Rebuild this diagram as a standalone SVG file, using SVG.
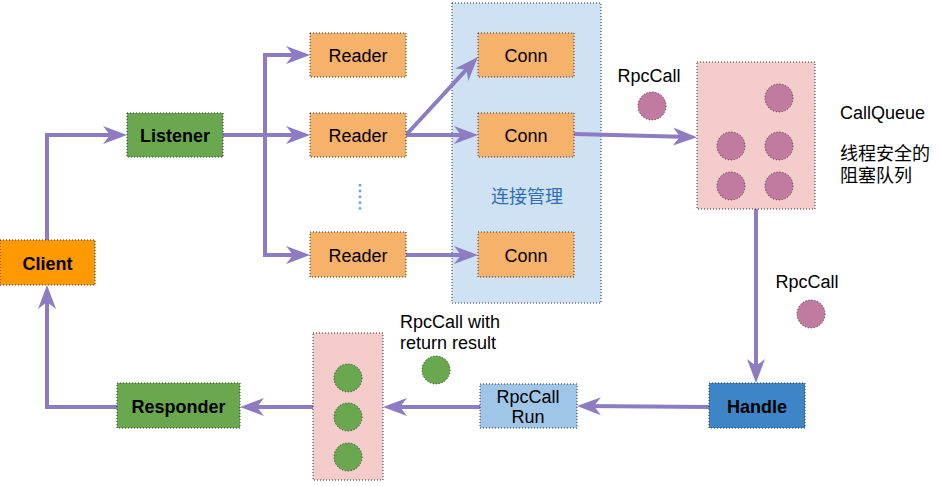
<svg xmlns="http://www.w3.org/2000/svg" width="939" height="486" viewBox="0 0 939 486">
<style>
.box{stroke:#333;stroke-width:1;stroke-dasharray:1 2}
.t{font-family:"Liberation Sans",Arial,sans-serif;font-size:18px;fill:#000;text-anchor:middle;dominant-baseline:central}
.b{font-weight:bold}
.lbl{font-family:"Liberation Sans",Arial,sans-serif;font-size:18px;fill:#000}
.cjk{font-family:"Liberation Sans","Noto Sans CJK SC",sans-serif;font-size:18px;fill:#000}
.edge{fill:none;stroke:#8e7cc3;stroke-width:4;marker-end:url(#arr)}
.pc{fill:#c27ba0;stroke:#333;stroke-width:1;stroke-dasharray:1 2}
.gc{fill:#6aa84f;stroke:#333;stroke-width:1;stroke-dasharray:1 2}
</style>
<defs>
<marker id="arr" markerUnits="userSpaceOnUse" markerWidth="28" markerHeight="22" refX="18" refY="10" orient="auto">
<path d="M0,1 L24,10 L0,19 L7,10 Z" fill="#8e7cc3"/>
</marker>
</defs>
<rect width="939" height="486" fill="#fff"/>
<g id="conn-group">
<rect class="box" x="452" y="3" width="149" height="300" fill="#cfe2f3"/>
<text x="527" y="197" class="cjk" text-anchor="middle" dominant-baseline="central" style="fill:#2f6db5">连接管理</text>
</g>
<g id="connectors">
<path class="edge" d="M47,240 V135 H121"/>
<path class="edge" d="M223,135 H265 V55 H304"/>
<path class="edge" d="M223,135 H304"/>
<path class="edge" d="M265,135 V255 H304"/>
<path class="edge" d="M406,135 L473.9,61.4"/>
<path class="edge" d="M406,135 H472"/>
<path class="edge" d="M406,255 H472"/>
<path class="edge" d="M574,134 L691,137"/>
<path class="edge" d="M756,209 V377"/>
<path class="edge" d="M709,407 L583,406"/>
<path class="edge" d="M480,407 H389"/>
<path class="edge" d="M313,407 H246"/>
<path class="edge" d="M117,407 H47 V291"/>
</g>
<g id="client"><rect class="box" x="0" y="240" width="95" height="45" fill="#ff9900"/><text class="t b" x="47.5" y="264">Client</text></g>
<g id="listener"><rect class="box" x="127" y="113" width="96" height="44" fill="#6aa84f"/><text class="t b" x="175" y="136">Listener</text></g>
<g id="reader1"><rect class="box" x="310" y="33" width="96" height="44" fill="#f6b26b"/><text class="t" x="358" y="56">Reader</text></g>
<g id="reader2"><rect class="box" x="310" y="113" width="96" height="44" fill="#f6b26b"/><text class="t" x="358" y="136">Reader</text></g>
<g id="reader3"><rect class="box" x="310" y="232" width="96" height="45" fill="#f6b26b"/><text class="t" x="358" y="256">Reader</text></g>
<g id="dots"><line x1="360" y1="184" x2="360" y2="213" stroke="#6d9eeb" stroke-width="2.5" stroke-dasharray="2.5 3.3"/></g>
<g id="conn1"><rect class="box" x="478" y="33" width="96" height="44" fill="#f6b26b"/><text class="t" x="526" y="56">Conn</text></g>
<g id="conn2"><rect class="box" x="478" y="113" width="96" height="44" fill="#f6b26b"/><text class="t" x="526" y="136">Conn</text></g>
<g id="conn3"><rect class="box" x="478" y="232" width="96" height="45" fill="#f6b26b"/><text class="t" x="526" y="256">Conn</text></g>
<g id="rpccall1"><text class="lbl" x="649" y="82" text-anchor="middle">RpcCall</text><circle class="pc" cx="652" cy="106" r="14"/></g>
<g id="callqueue">
<rect class="box" x="697" y="62" width="118" height="147" fill="#f4cccc"/>
<circle class="pc" cx="779" cy="98" r="14"/>
<circle class="pc" cx="731" cy="146" r="14"/>
<circle class="pc" cx="779" cy="146" r="14"/>
<circle class="pc" cx="731" cy="186" r="14"/>
<circle class="pc" cx="779" cy="186" r="14"/>
</g>
<g id="callqueue-label">
<text class="lbl" x="840" y="119">CallQueue</text>
<text class="cjk" x="840" y="160">线程安全的</text>
<text class="cjk" x="840" y="182">阻塞队列</text>
</g>
<g id="rpccall2"><text class="lbl" x="807" y="288" text-anchor="middle">RpcCall</text><circle class="pc" cx="811" cy="314" r="14"/></g>
<g id="handle"><rect class="box" x="709" y="383" width="96" height="45" fill="#3d85c6"/><text class="t b" x="757" y="407">Handle</text></g>
<g id="rpccallrun"><rect class="box" x="480" y="384" width="97" height="44" fill="#9fc5e8"/><text class="lbl" x="528" y="403" text-anchor="middle">RpcCall</text><text class="lbl" x="528" y="423" text-anchor="middle">Run</text></g>
<g id="result-label"><text class="lbl" x="400" y="328">RpcCall with</text><text class="lbl" x="400" y="349">return result</text><circle class="gc" cx="436" cy="370" r="14"/></g>
<g id="resultqueue">
<rect class="box" x="313" y="333" width="70" height="147" fill="#f4cccc"/>
<circle class="gc" cx="348" cy="378" r="14"/>
<circle class="gc" cx="348" cy="417" r="14"/>
<circle class="gc" cx="348" cy="457" r="14"/>
</g>
<g id="responder"><rect class="box" x="117" y="383" width="123" height="45" fill="#6aa84f"/><text class="t b" x="178.5" y="407">Responder</text></g>
</svg>
